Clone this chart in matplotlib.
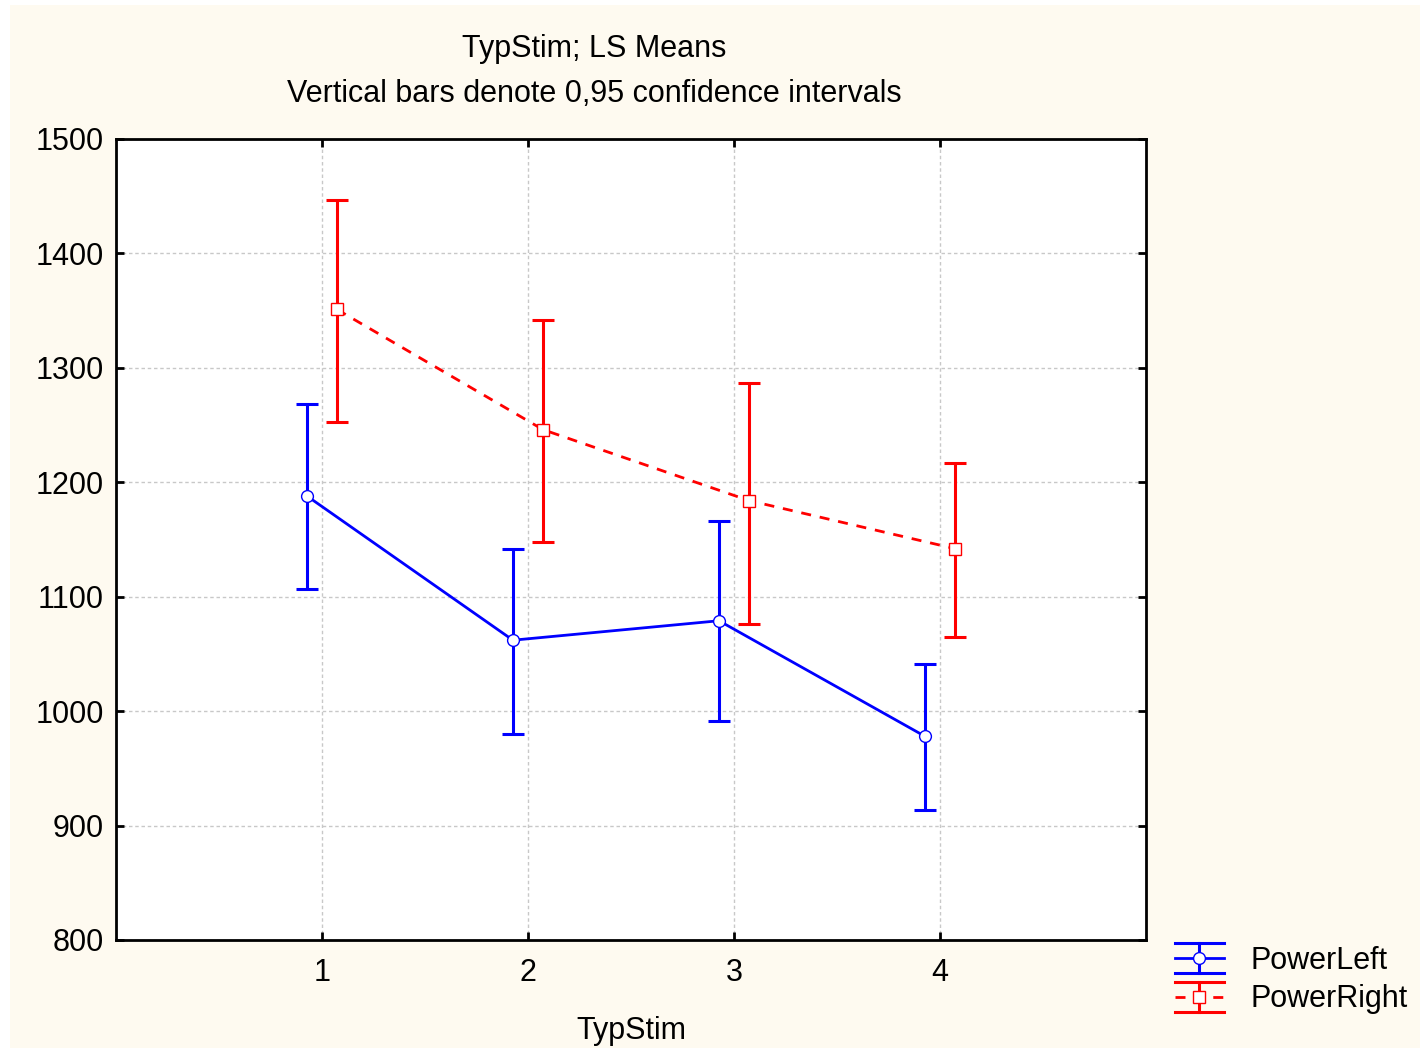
import matplotlib.pyplot as plt
from matplotlib.legend_handler import HandlerBase
from matplotlib.lines import Line2D
from matplotlib.patches import Rectangle

# data
typstim = [1, 2, 3, 4]
left_mean = [1188, 1062, 1079, 978]
left_lo = [1107, 980, 991, 914]
left_hi = [1268, 1142, 1166, 1041]
right_mean = [1351, 1246, 1184, 1142]
right_lo = [1253, 1148, 1076, 1065]
right_hi = [1447, 1342, 1287, 1217]

plt.rcParams['font.family'] = ['Liberation Sans', 'DejaVu Sans']

BG = '#fefaf0'
FS = 22
DASH = (3.6, 3.2)


# legend symbol in the Statistica style: long caps, mean line with marker
class StatHandler(HandlerBase):
    def create_artists(self, legend, orig_handle, xdescent, ydescent,
                       width, height, fontsize, trans):
        c = orig_handle.get_color()
        ls = orig_handle.get_linestyle()
        x0, x1 = -xdescent, -xdescent + width
        ym = -ydescent + height / 2
        d = 15 * 72 / 100.0
        xm = (x0 + x1) / 2
        arts = [
            Line2D([x0, x1], [ym + d, ym + d], color=c, lw=2.2),
            Line2D([x0, x1], [ym - d, ym - d], color=c, lw=2.2),
            Line2D([xm, xm], [ym - d, ym + d], color=c, lw=2.2),
            Line2D([x0, x1], [ym, ym], color=c, lw=2, linestyle=ls,
                   dashes=DASH if ls == '--' else (None, None)),
            Line2D([xm], [ym], color=c, marker=orig_handle.get_marker(),
                   markersize=8.5, markerfacecolor='white',
                   markeredgecolor=c, markeredgewidth=1, lw=0),
        ]
        for a in arts:
            a.set_transform(trans)
        return arts


fig = plt.figure(figsize=(14.2, 10.48), dpi=100, facecolor='white')
fig.patches.append(Rectangle((10 / 1420, 0), 1, 1 - 5 / 1048,
                             transform=fig.transFigure, facecolor=BG,
                             edgecolor='none', zorder=-10))

ax = fig.add_axes([116 / 1420, 108 / 1048, 1030 / 1420, 801 / 1048])
ax.set_facecolor('white')

off = 0.073
xl = [x - off for x in typstim]
xr = [x + off for x in typstim]

ax.errorbar(xl, left_mean,
            yerr=[[m - lo for m, lo in zip(left_mean, left_lo)],
                  [hi - m for m, hi in zip(left_mean, left_hi)]],
            fmt='none', ecolor='#0000ff', elinewidth=2.2, capsize=8,
            capthick=2.2, zorder=3)
ax.errorbar(xr, right_mean,
            yerr=[[m - lo for m, lo in zip(right_mean, right_lo)],
                  [hi - m for m, hi in zip(right_mean, right_hi)]],
            fmt='none', ecolor='#ff0000', elinewidth=2.2, capsize=8,
            capthick=2.2, zorder=3)

hl, = ax.plot(xl, left_mean, color='#0000ff', lw=2, marker='o',
              markersize=8.5, markerfacecolor='white',
              markeredgecolor='#0000ff', markeredgewidth=1, zorder=4)
hr, = ax.plot(xr, right_mean, color='#ff0000', lw=2, linestyle='--',
              dashes=DASH, marker='s', markersize=8.5,
              markerfacecolor='white', markeredgecolor='#ff0000',
              markeredgewidth=1, zorder=4)

ax.set_xlim(0, 5)
ax.set_ylim(800, 1500)
ax.set_xticks(typstim)
ax.set_yticks(range(800, 1501, 100))
ax.grid(True, color='#c8c8c8', linestyle=(0, (2.5, 2)), lw=1)
ax.set_axisbelow(True)
ax.tick_params(direction='in', length=6, width=2, labelsize=FS,
               top=True, right=True)
ax.tick_params(axis='y', pad=9)
ax.tick_params(axis='x', pad=13)
for s in ax.spines.values():
    s.set_linewidth(2)

ax.set_xlabel('TypStim', fontsize=FS, labelpad=20)

fig.text(594 / 1420, 1 - 49 / 1048, 'TypStim; LS Means', fontsize=FS,
         ha='center', va='center')
fig.text(594 / 1420, 1 - 94 / 1048,
         'Vertical bars denote 0,95 confidence intervals', fontsize=FS,
         ha='center', va='center')

fig.legend([hl, hr], ['PowerLeft', 'PowerRight'],
           handler_map={Line2D: StatHandler()},
           loc='center left', bbox_to_anchor=(1175 / 1420, 1 - 980 / 1048),
           frameon=False, fontsize=FS, handlelength=1.6, handletextpad=0.88,
           labelspacing=0.28, borderpad=0, borderaxespad=0)

plt.savefig('out.png', dpi=100, facecolor=fig.get_facecolor())
